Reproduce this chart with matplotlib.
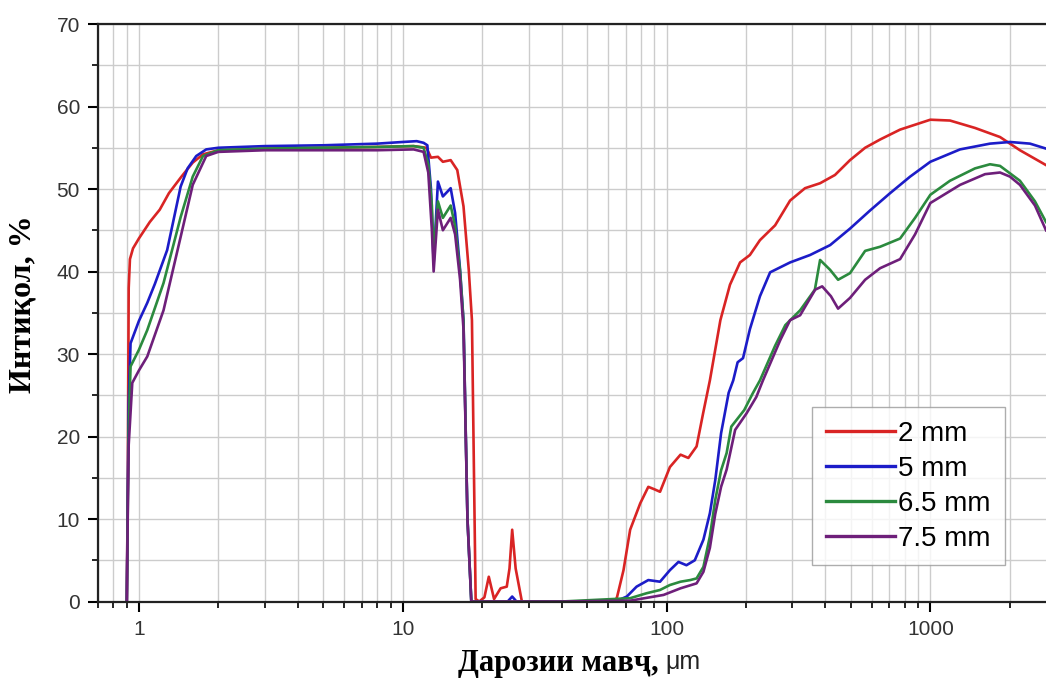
import matplotlib.pyplot as plt
from matplotlib.ticker import LogLocator, MultipleLocator, FixedLocator, NullFormatter

# wavelength (um) and transmission (%)
x_2mm = [0.90, 0.908, 0.915, 0.925, 0.95, 1.0, 1.1, 1.2, 1.3, 1.45, 1.6, 1.75, 2.0, 3, 5, 8, 11,
         12.3, 12.8, 13.6, 14.2, 15.2, 16.1, 17.0, 17.8, 18.3, 18.9, 19.5, 20.4, 21.2, 22.2,
         23.5, 24.8, 25.4, 26.0, 26.8, 28.3, 40, 64, 65, 68.7, 72.8, 79.5, 85.3, 90, 94.5,
         103, 113, 121, 130, 137.6, 146, 160, 174, 190, 207, 226, 258, 294, 335, 382, 435,
         496, 566, 645, 768, 1000, 1187, 1477, 1837, 2186, 2744]
y_2mm = [0, 15, 38, 41.5, 42.8, 44, 46, 47.5, 49.5, 51.5, 53.2, 54.2, 54.7, 54.9, 55, 55.1, 55.2,
         55, 53.8, 53.9, 53.3, 53.5, 52.3, 47.9, 40.2, 34.1, 0.3, 0, 0.5, 3.0, 0.3,
         1.6, 1.8, 4, 8.7, 4, 0, 0, 0, 0.6, 3.8, 8.7, 11.9, 13.9, 13.6, 13.3,
         16.3, 17.8, 17.4, 18.8, 22.8, 26.8, 34.1, 38.4, 41.1, 42, 43.8, 45.6, 48.6, 50.1, 50.7, 51.7,
         53.5, 55, 56, 57.2, 58.4, 58.3, 57.4, 56.3, 54.7, 52.9]

x_5mm = [0.90, 0.908, 0.915, 0.93, 1.0, 1.076, 1.15, 1.28, 1.44, 1.53, 1.65, 1.8, 2.0, 3, 5, 8,
         10, 11.3, 12.0, 12.4, 12.8, 13.1, 13.6, 14.2, 15.2, 15.8, 16.5, 17.0, 17.6, 18.2, 20,
         25, 26, 27, 40, 64, 70.7, 77, 85.3, 94.5, 103, 111, 119, 128, 138, 146, 153, 161,
         172, 179, 186, 195, 207, 226, 247, 294, 350, 417, 496, 591, 704, 838, 1000, 1296,
         1683, 2004, 2386, 2744]
y_5mm = [0, 14, 24, 31.3, 34, 36.2, 38.5, 42.6, 50.3, 52.5, 54, 54.8, 55.0, 55.2, 55.3, 55.5,
         55.7, 55.8, 55.6, 55.3, 50, 41, 50.9, 49.1, 50.1, 47.1, 40.2, 34.1, 10, 0, 0,
         0, 0.6, 0, 0, 0, 0.6, 1.8, 2.6, 2.4, 3.8, 4.8, 4.4, 5.0, 7.5, 10.7, 14.7, 20.4,
         25.3, 26.8, 29, 29.5, 33, 37, 39.9, 41.1, 42, 43.2, 45.2, 47.4, 49.5, 51.5, 53.3, 54.8,
         55.5, 55.7, 55.5, 54.9]

x_65mm = [0.90, 0.908, 0.915, 0.93, 1.0, 1.076, 1.24, 1.44, 1.6, 1.75, 2.0, 3, 5, 8, 11, 12.0,
          12.5, 12.9, 13.1, 13.6, 14.2, 15.2, 15.8, 16.5, 17.0, 17.6, 18.2, 40, 72.8, 84, 94.5,
          103, 113, 123, 130, 138, 146, 153, 161, 169, 176, 197, 212, 226, 258, 282, 321, 365,
          382, 417, 447, 496, 566, 645, 768, 875, 1000, 1187, 1477, 1683, 1837, 2186, 2492, 2744]
y_65mm = [0, 12, 21, 28.5, 30.5, 32.9, 38.6, 46.6, 51.5, 54.0, 54.7, 54.9, 55, 55.1, 55.2, 55,
          53, 48, 42, 48.5, 46.5, 48, 45.5, 40, 34, 10, 0, 0, 0.4, 1.0, 1.4,
          2.0, 2.4, 2.6, 2.8, 4.2, 7.9, 12.3, 15.9, 18, 21.2, 23.2, 25.2, 26.8, 31, 33.5, 35.3, 37.8,
          41.4, 40.2, 39, 39.8, 42.5, 43, 44, 46.5, 49.3, 51, 52.5, 53, 52.8, 51, 48.5, 46]

x_75mm = [0.90, 0.908, 0.915, 0.944, 1.0, 1.076, 1.24, 1.44, 1.6, 1.8, 2.0, 3, 5, 8, 11, 12.0,
          12.5, 12.9, 13.1, 13.6, 14.2, 15.2, 15.8, 16.5, 17.0, 17.6, 18.2, 40, 72.8, 97.5, 113,
          130, 138, 146, 153, 161, 169, 182, 201, 219, 232, 270, 294, 321, 366, 389, 420, 447,
          496, 566, 645, 768, 875, 1000, 1296, 1612, 1837, 2004, 2186, 2492, 2744]
y_75mm = [0, 11, 19, 26.5, 28, 29.7, 35.3, 44.2, 50.5, 54, 54.5, 54.7, 54.7, 54.7, 54.8, 54.5,
          52, 45, 40, 47.5, 45, 46.5, 44.5, 39, 33, 10, 0, 0, 0.1, 0.8, 1.6,
          2.2, 3.6, 6.5, 10.6, 13.9, 16, 20.8, 22.8, 24.8, 26.8, 31.7, 34.1, 34.7, 37.8, 38.2, 37, 35.5,
          36.8, 39, 40.4, 41.5, 44.5, 48.3, 50.5, 51.8, 52, 51.5, 50.5, 48, 45]

labels = ['2 mm', '5 mm', '6.5 mm', '7.5 mm']
colors = ['#d92424', '#1c1cc8', '#2b8a3e', '#6e1f7a']

fig = plt.figure(figsize=(10.46, 6.84), dpi=100)
ax = fig.add_axes([0.0937, 0.1206, 0.9063, 0.8443])

series = [(x_2mm, y_2mm), (x_5mm, y_5mm), (x_65mm, y_65mm), (x_75mm, y_75mm)]
for (xs, ys), lab, c in zip(series, labels, colors):
    ax.plot(xs, ys, color=c, lw=1.9, label=lab)

ax.set_xscale('log')
ax.set_xlim(0.7, 2744)
ax.set_ylim(0, 70)

ax.yaxis.set_major_locator(MultipleLocator(10))
ax.yaxis.set_minor_locator(MultipleLocator(5))
ax.xaxis.set_major_locator(FixedLocator([1, 10, 100, 1000]))
ax.xaxis.set_major_formatter(plt.FuncFormatter(lambda v, p: f"{v:g}"))
ax.xaxis.set_minor_locator(LogLocator(base=10, subs=range(2, 10)))
ax.xaxis.set_minor_formatter(NullFormatter())

ax.grid(True, which='both', color='#cccccc', lw=1.0)
ax.set_axisbelow(True)

for side in ['left', 'bottom', 'top']:
    ax.spines[side].set_linewidth(1.6)
    ax.spines[side].set_color('#222222')
ax.spines['right'].set_visible(False)

ax.tick_params(which='major', direction='out', length=7, width=1.5, labelsize=15,
               labelcolor='#333333', pad=6)
ax.tick_params(which='minor', direction='out', length=4, width=1.2)
for t in ax.get_xticklabels() + ax.get_yticklabels():
    t.set_family(['Liberation Sans', 'DejaVu Sans'])

serif = ['Liberation Serif', 'DejaVu Serif']
fig.text(0.630, 0.03, 'Дарозии мавҷ,', ha='right', va='center', fontsize=22,
         fontweight='bold', family=serif)
fig.text(0.636, 0.032, 'μm', ha='left', va='center', fontsize=18,
         family=['Liberation Sans', 'DejaVu Sans'], color='#222222')
fig.text(0.022, 0.555, 'Интиқол, %', ha='center', va='center', rotation=90, fontsize=23,
         fontweight='bold', family=serif)

leg = ax.legend(loc='upper left', bbox_to_anchor=(0.776, 0.405), bbox_transform=fig.transFigure,
                frameon=True, fancybox=False, handlelength=2.5,
                handletextpad=0.12, labelspacing=0.32, borderpad=0.5, borderaxespad=0,
                prop={'family': ['Liberation Sans', 'DejaVu Sans'], 'size': 20})
leg.get_frame().set_edgecolor('#999999')
leg.get_frame().set_linewidth(1.0)
for line in leg.get_lines():
    line.set_linewidth(2.4)

fig.savefig('out.png', dpi=100)
